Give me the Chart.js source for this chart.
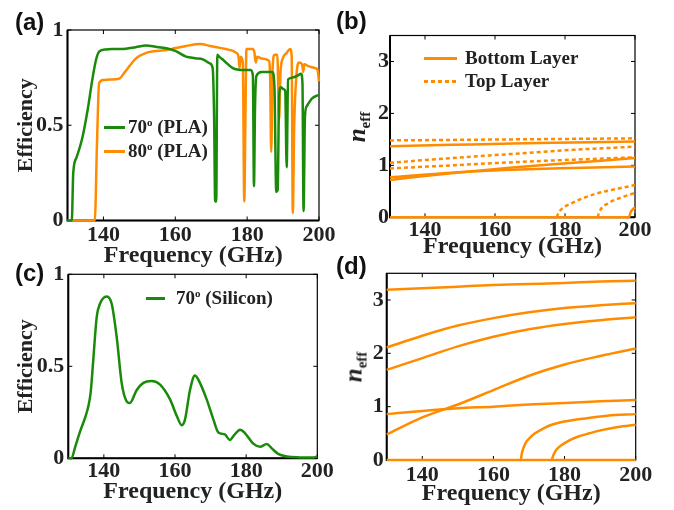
<!DOCTYPE html>
<html>
<head>
<meta charset="utf-8">
<script src="https://cdn.jsdelivr.net/npm/chart.js@4/dist/chart.umd.min.js"></script>
<style>
  body { margin:0; background:#fff; }
  #wrap { position:relative; width:674px; height:510px; overflow:hidden; background:#fff; }
  canvas { position:absolute; left:0; top:0; }
  .lbl { position:absolute; font-family:'Liberation Sans', Arial, sans-serif; font-weight:bold; font-size:24px; line-height:1; color:#111; }
  .leg { position:absolute; display:flex; align-items:center; height:22px; font-family:'Liberation Serif','Times New Roman',serif; font-weight:bold; font-size:19px; color:#222; white-space:nowrap; }
  .leg sup { font-size:11px; vertical-align:7px; line-height:0; }
  .sw { display:inline-block; height:3px; margin-right:6px; }
  .neff { position:absolute; font-family:'Liberation Serif','Times New Roman',serif; font-weight:bold; color:#222; white-space:nowrap; transform:translate(-50%,-50%) rotate(-90deg); font-size:25px; }
  .neff i { font-style:italic; }
  .neff sub { font-size:15px; font-style:normal; vertical-align:-5px; }
</style>
</head>
<body>
<div id="wrap">
  <canvas id="ca" width="674" height="510"></canvas>
  <canvas id="cb" width="674" height="510"></canvas>
  <canvas id="cc" width="674" height="510"></canvas>
  <canvas id="cd" width="674" height="510"></canvas>

  <div class="lbl" style="left:15px;top:10px">(a)</div>
  <div class="lbl" style="left:336px;top:9px">(b)</div>
  <div class="lbl" style="left:15px;top:261px">(c)</div>
  <div class="lbl" style="left:336px;top:254px">(d)</div>

  <div class="leg" style="left:104px;top:116px"><span class="sw" style="width:21px;background:#1a8a0a;margin-right:3px"></span><span>70<sup>o</sup>&nbsp;(PLA)</span></div>
  <div class="leg" style="left:104px;top:140px"><span class="sw" style="width:21px;background:#ff8c00;margin-right:3px"></span><span>80<sup>o</sup>&nbsp;(PLA)</span></div>

  <div class="leg" style="left:424px;top:47px"><span class="sw" style="width:33px;background:#ff8c00;margin-right:8px"></span><span>Bottom Layer</span></div>
  <div class="leg" style="left:424px;top:70px"><span class="sw" style="width:33px;background:repeating-linear-gradient(to right,#ff8c00 0 4px,transparent 4px 7px);margin-right:8px"></span><span>Top Layer</span></div>

  <div class="leg" style="left:146px;top:287px"><span class="sw" style="width:19px;background:#1a8a0a;margin-right:11px"></span><span>70<sup>o</sup>&nbsp;(Silicon)</span></div>

  <div class="neff" style="left:358px;top:127px"><i>n</i><sub>eff</sub></div>
  <div class="neff" style="left:355px;top:367px"><i>n</i><sub>eff</sub></div>
</div>

<script>
// ---------------- DATA ----------------
const xTicks = [140, 160, 180, 200];
const effTicks = [0, 0.5, 1];
const neffTicks = [0, 1, 2, 3];

// (a) PLA, 70 degrees
const freqA70 = [130,131.2,131.6,132.5,134.2,135.6,137,137.9,138.8,140.7,143,146.3,149,151.9,154.5,157.5,160,163,165.5,167.7,169.6,170.4,170.8,171.1,171.4,171.7,172.2,173.5,176,179,181,181.6,181.9,182.2,182.6,184,187,187.6,188.1,188.5,188.9,189.4,190,190.6,191,191.4,192.5,194,195,195.4,195.7,196.1,196.6,198,200];
const effA70  = [0,0,0.25,0.33,0.44,0.58,0.75,0.84,0.886,0.898,0.9,0.902,0.91,0.918,0.912,0.904,0.89,0.86,0.852,0.846,0.825,0.8,0.55,0.1,0.1,0.87,0.86,0.84,0.8,0.79,0.79,0.76,0.18,0.6,0.76,0.78,0.78,0.7,0.15,0.16,0.66,0.7,0.69,0.68,0.28,0.74,0.75,0.76,0.77,0.72,0.05,0.55,0.6,0.64,0.66];
// (a) PLA, 80 degrees
const freqA80 = [130,137.6,138.2,138.8,140,142,144.4,146,149,151.9,154,157.5,160,163,166.8,170,174,177,177.6,177.9,178.2,178.8,179.2,179.5,179.8,181.5,182,182.4,182.8,184,186,186.4,186.7,187.1,187.6,188.4,188.9,189.3,189.9,191,192,192.4,192.7,193.1,193.8,194.5,195.3,195.6,195.9,197,199,199.6,200];
const effA80  = [0,0,0.4,0.72,0.737,0.74,0.745,0.78,0.85,0.88,0.888,0.895,0.905,0.916,0.926,0.915,0.9,0.88,0.86,0.8,0.86,0.83,0.1,0.5,0.9,0.9,0.885,0.83,0.86,0.85,0.84,0.75,0.36,0.8,0.87,0.87,0.53,0.78,0.85,0.88,0.9,0.86,0.04,0.5,0.78,0.83,0.82,0.78,0.82,0.81,0.8,0.79,0.73];

// (b) effective index, PLA
const freqB = [130, 147.5, 165, 182.5, 200];
const bBottom1 = [1.37, 1.395, 1.42, 1.44, 1.46];
const bBottom2 = [0.72, 0.85, 0.96, 1.05, 1.14];
const bBottom3 = [0.77, 0.86, 0.915, 0.95, 0.98];
const freqBBottom4 = [130, 198.3, 198.7, 199.3, 200];
const bBottom4 = [0, 0, 0.09, 0.15, 0.19];
const bTop1 = [1.48, 1.49, 1.5, 1.51, 1.52];
const bTop2 = [1.05, 1.14, 1.22, 1.3, 1.36];
const bTop3 = [0.94, 1.0, 1.06, 1.11, 1.155];
const freqBTop4 = [177.6, 178.5, 181.9, 188.6, 195, 200];
const bTop4 = [0, 0.12, 0.27, 0.45, 0.55, 0.62];
const freqBTop5 = [189.3, 190, 192.4, 196, 200];
const bTop5 = [0, 0.13, 0.27, 0.38, 0.47];

// (c) Silicon, 70 degrees
const freqC = [130,130.9,131.9,133.3,134.7,135.6,136.3,137,138,138.9,139.8,140.8,142.2,143.6,145,146.4,147.3,149.2,151.1,153.4,155.8,158.6,160.5,161.9,162.8,164.2,165.6,167,168.9,170.8,172.2,174,175.4,176.8,178.3,179.7,182,183.9,185.8,187.2,189,191.4,195.1,198.9,200];
const effC  = [0,0,0.06,0.145,0.22,0.28,0.36,0.53,0.77,0.84,0.87,0.88,0.84,0.66,0.41,0.31,0.3,0.37,0.41,0.42,0.4,0.32,0.23,0.18,0.21,0.37,0.45,0.41,0.32,0.21,0.14,0.13,0.1,0.13,0.155,0.136,0.08,0.063,0.078,0.054,0.024,0.01,0.005,0.004,0.01];

// (d) effective index, Silicon
const freqD = [130, 140, 150, 160, 170, 180, 190, 200];
const dL1 = [3.19, 3.22, 3.25, 3.28, 3.30, 3.32, 3.345, 3.36];
const dL2 = [2.11, 2.33, 2.52, 2.66, 2.77, 2.85, 2.9, 2.94];
const dL3 = [1.69, 1.91, 2.13, 2.31, 2.45, 2.55, 2.62, 2.675];
const dL4 = [0.48, 0.8, 1.04, 1.31, 1.58, 1.79, 1.95, 2.09];
const dL5 = [0.86, 0.92, 0.97, 1.0, 1.04, 1.07, 1.1, 1.125];
const freqDL0 = [130, 200];
const dL0 = [0, 0];
const freqDL6 = [167.7, 168.0, 168.9, 170.3, 171.7, 174, 176.4, 180, 185.8, 192, 200];
const dL6 = [0, 0.125, 0.3, 0.42, 0.5, 0.59, 0.66, 0.72, 0.78, 0.83, 0.86];
const freqDL7 = [176.4, 176.9, 177.8, 179.2, 181.1, 183.9, 187, 190.4, 195, 200];
const dL7 = [0, 0.1, 0.2, 0.28, 0.36, 0.44, 0.5, 0.56, 0.62, 0.66];

// ---------------- STYLE / LAYOUT ----------------
const GREEN = '#1a8a0a';
const ORANGE = '#ff8c00';
const SERIF = "'Liberation Serif', 'Times New Roman', serif";
const TXT = '#222';

function pts(xs, ys) { return xs.map((x, i) => ({x: x, y: ys[i]})); }
function ds(xs, ys, color, dashed, w) {
  return { data: pts(xs, ys), borderColor: color, borderWidth: w || 2.5, pointRadius: 0,
           fill: false, cubicInterpolationMode: 'monotone', borderDash: dashed ? [4, 3] : [], clip: 3 };
}

const framePlugin = {
  id: 'frame',
  beforeDatasetsDraw(chart) {
    const {ctx, chartArea: a, scales} = chart;
    ctx.save();
    ctx.strokeStyle = '#000';
    ctx.lineWidth = 1.2;
    ctx.strokeRect(a.left, a.top, a.right - a.left, a.bottom - a.top);
    ctx.lineWidth = 2;
    ctx.beginPath();
    ctx.moveTo(a.left, a.top); ctx.lineTo(a.left, a.bottom); ctx.lineTo(a.right, a.bottom);
    ctx.stroke();
    ctx.lineWidth = 1;
    ctx.beginPath();
    scales.x.ticks.forEach(t => {
      const p = scales.x.getPixelForValue(t.value);
      ctx.moveTo(p, a.bottom); ctx.lineTo(p, a.bottom - 4);
      ctx.moveTo(p, a.top); ctx.lineTo(p, a.top + 4);
    });
    scales.y.ticks.forEach(t => {
      const p = scales.y.getPixelForValue(t.value);
      ctx.moveTo(a.left, p); ctx.lineTo(a.left + 4, p);
      ctx.moveTo(a.right, p); ctx.lineTo(a.right - 4, p);
    });
    ctx.stroke();
    ctx.restore();
  }
};

function makeChart(id, area, datasets, yOpts) {
  const pad = { left: area.L - area.wy, right: 674 - area.R, top: area.T, bottom: 510 - area.B - area.hx };
  return new Chart(document.getElementById(id), {
    type: 'line',
    data: { datasets: datasets },
    plugins: [framePlugin],
    options: {
      responsive: false, animation: false, events: [],
      layout: { padding: pad },
      plugins: { legend: { display: false }, tooltip: { enabled: false } },
      scales: {
        x: {
          type: 'linear', min: 130, max: 200,
          afterBuildTicks: s => { s.ticks = xTicks.map(v => ({value: v})); },
          afterFit: s => { s.height = area.hx; },
          grid: { display: false, drawTicks: false }, border: { display: false },
          ticks: { font: { family: SERIF, size: 22, weight: 'bold', lineHeight: 1.2 }, color: TXT, padding: area.xpad, maxRotation: 0, autoSkip: false,
                   callback: v => String(v) },
          title: { display: true, text: 'Frequency (GHz)', font: { family: SERIF, size: 24, weight: 'bold', lineHeight: 1.2 }, color: TXT, padding: 0 }
        },
        y: {
          type: 'linear', min: yOpts.min, max: yOpts.max,
          afterBuildTicks: s => { s.ticks = yOpts.ticks.map(v => ({value: v})); },
          afterFit: s => { s.width = area.wy; },
          grid: { display: false, drawTicks: false }, border: { display: false },
          ticks: { font: { family: SERIF, size: 22, weight: 'bold', lineHeight: 1.2 }, color: TXT, padding: area.ypad, autoSkip: false,
                   callback: v => String(v) },
          title: { display: !!yOpts.title, text: yOpts.title || '', font: { family: SERIF, size: 22, weight: 'bold', lineHeight: 1.2 }, color: TXT, padding: 0 }
        }
      }
    }
  });
}

makeChart('ca', { L: 67.5, R: 319, T: 30, B: 220.5, wy: 54.7, hx: 49.8, xpad: 2, ypad: 4 }, [
  ds(freqA70, effA70, GREEN),
  ds(freqA80, effA80, ORANGE)
], { min: 0, max: 1, ticks: effTicks, title: 'Efficiency' });

makeChart('cb', { L: 390, R: 635, T: 35.5, B: 217.3, wy: 30, hx: 43.5, xpad: 0, ypad: 1 }, [
  ds(freqB, bTop1, ORANGE, true),
  ds(freqB, bTop2, ORANGE, true),
  ds(freqB, bTop3, ORANGE, true),
  ds(freqBTop4, bTop4, ORANGE, true),
  ds(freqBTop5, bTop5, ORANGE, true),
  ds(freqB, bBottom1, ORANGE),
  ds(freqB, bBottom2, ORANGE),
  ds(freqB, bBottom3, ORANGE),
  ds(freqBBottom4, bBottom4, ORANGE)
], { min: 0, max: 3.5, ticks: neffTicks });

makeChart('cc', { L: 68.3, R: 317.3, T: 274.3, B: 458.3, wy: 55.5, hx: 47.8, xpad: 0, ypad: 4 }, [
  ds(freqC, effC, GREEN)
], { min: 0, max: 1, ticks: effTicks, title: 'Efficiency' });

makeChart('cd', { L: 386.7, R: 635.7, T: 273.3, B: 460, wy: 30, hx: 47.8, xpad: 2, ypad: 3 }, [
  ds(freqD, dL1, ORANGE),
  ds(freqD, dL2, ORANGE),
  ds(freqD, dL3, ORANGE),
  ds(freqD, dL4, ORANGE),
  ds(freqD, dL5, ORANGE),
  ds(freqDL0, dL0, ORANGE),
  ds(freqDL6, dL6, ORANGE),
  ds(freqDL7, dL7, ORANGE)
], { min: 0, max: 3.5, ticks: neffTicks });
</script>
</body>
</html>
